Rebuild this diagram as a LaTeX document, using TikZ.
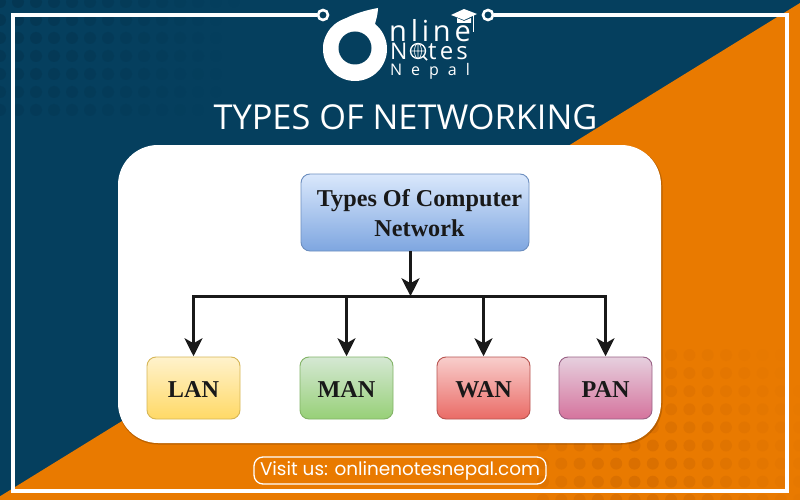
\documentclass[tikz,border=0pt]{standalone}
\usepackage{fontspec}
\setmainfont{Liberation Serif}
\newfontfamily\titlefont{Open Sans}
\newfontfamily\visitfont{Poppins}
\newfontfamily\logofont[LetterSpace=13]{Open Sans}
\newfontfamily\nepalfont[LetterSpace=56]{Open Sans}
\usetikzlibrary{arrows.meta}
\definecolor{navy}{HTML}{053F5E}
\definecolor{navydot}{HTML}{043753}
\definecolor{orangebg}{HTML}{E97A00}
\definecolor{orangedot}{HTML}{D96F00}
\definecolor{topdraw}{HTML}{6C8EBF}
\definecolor{toplight}{HTML}{DAE8FC}
\definecolor{topdark}{HTML}{7EA6E0}
\definecolor{landraw}{HTML}{D6B656}
\definecolor{lanlight}{HTML}{FFF2CC}
\definecolor{landark}{HTML}{FFD966}
\definecolor{mandraw}{HTML}{82B366}
\definecolor{manlight}{HTML}{D5E8D4}
\definecolor{mandark}{HTML}{97D077}
\definecolor{wandraw}{HTML}{B85450}
\definecolor{wanlight}{HTML}{F8CECC}
\definecolor{wandark}{HTML}{EA6B66}
\definecolor{pandraw}{HTML}{996185}
\definecolor{panlight}{HTML}{E6D0DE}
\definecolor{pandark}{HTML}{D5739D}
\tikzset{
    netbox/.style={draw=#1draw,top color=#1light,bottom color=#1dark,rounded corners=9pt,line width=0.9pt,
        minimum height=62pt,minimum width=93pt,inner sep=0pt,text=black!90,align=center,
        font=\fontsize{24.2}{29.5}\selectfont\bfseries},
    leafbox/.style={netbox=#1,text height=19pt,text depth=0pt},
    busline/.style={line width=2.8pt,black!90},
    droparrow/.style={busline,-{Stealth[length=18pt,width=18pt,inset=5pt]},shorten >=0.3pt},
    frameline/.style={white,line width=4pt},
    pin/.style={circle,draw=white,fill=navy,line width=2.6pt,minimum size=10pt,inner sep=0pt}
}
\begin{document}
\begin{tikzpicture}[x=1pt,y=-1pt]
    \useasboundingbox (0,0) rectangle (800,500);
    \fill[navy] (0,0) rectangle (800,500);
    \fill[orangebg] (800,3) -- (800,500) -- (-6,500) -- cycle;
    \foreach \i in {0,...,14}
        \foreach \j in {0,...,6}{
            \pgfmathsetmacro{\fadetl}{max(0,1-veclen(18*\i,18*\j)/235)}
            \fill[navydot,opacity=\fadetl] (18*\i,2+18*\j) circle (6pt);
        }
    \foreach \i in {0,...,14}
        \foreach \j in {0,...,8}{
            \pgfmathsetmacro{\fadebr}{max(0,1-veclen(18.3*\i-94,18.1*\j-120)/190)}
            \fill[orangedot,opacity=\fadebr] (543+18.3*\i,355+18.1*\j) circle (6pt);
        }

    \node[pin] (pinl) at (323,15) {};
    \node[pin] (pinr) at (488,15) {};
    \coordinate (tl) at (13,15);
    \coordinate (bl) at (13,491);
    \coordinate (br) at (787,491);
    \coordinate (tr) at (787,15);
    \draw[frameline,line join=miter] (pinl) -- (tl) -- (bl) -- (br) -- (tr) -- (pinr);

    \fill[white] (355,49) circle (32pt);
    \fill[white] (323,49) .. controls (323,28) and (345,14) .. (378,8) .. controls (378,14) and (376,20) .. (375,24) -- (355,49) -- cycle;
    \fill[navy] (355,48) circle (16.5pt);
    \node[anchor=base west,inner sep=0pt,text=white,font=\logofont\fontsize{29}{29}\selectfont] (online) at (389,41.5) {nline};
    \node[anchor=base west,inner sep=0pt,text=white,font=\logofont\fontsize{23}{23}\selectfont] (notesn) at (390,60) {N};
    \node[anchor=base west,inner sep=0pt,text=white,font=\logofont\fontsize{24}{24}\selectfont] (notest) at (428,60) {tes};
    \node[anchor=base west,inner sep=0pt,text=white,font=\nepalfont\fontsize{16}{16}\selectfont] (nepal) at (390,76) {Nepal};
    \draw[white,line width=1.3pt] (418,51) circle (7.5pt);
    \draw[white,line width=0.6pt] (410.5,51) -- (425.5,51) (418,43.5) -- (418,58.5) (418,51) ellipse (3.5pt and 7.5pt);
    \draw[white,line width=1.6pt] (423,56) -- (427,60);
    \fill[white] (451,15) -- (464,9) -- (477,14) -- (464,20) -- cycle;
    \fill[white] (457,18) -- (464,21) -- (471,18) -- (471,23) -- (457,23) -- cycle;
    \draw[white,line width=0.8pt] (473,15) -- (473,32);

    \node[text=white,inner sep=0pt,font=\titlefont\fontsize{34.3}{36}\selectfont] (title) at (405.5,117) {TYPES OF NETWORKING};

    \fill[black,opacity=0.18,rounded corners=40pt] (118,146) rectangle (662.5,444.5);
    \fill[white,rounded corners=40pt] (118,145) rectangle (661,443);

    \node[netbox=top,minimum width=228pt,minimum height=77pt] (network) at (415,212.5) {\rule{0pt}{18.5pt}\hspace*{9pt}Types Of Computer\\\hspace*{9pt}Network};
    \node[leafbox=lan] (lan) at (193.5,388) {LAN};
    \node[leafbox=man] (man) at (346.5,388) {MAN};
    \node[leafbox=wan] (wan) at (483.5,388) {WAN};
    \node[leafbox=pan] (pan) at (605.5,388) {PAN};

    \coordinate (stem) at (410.5,251);
    \coordinate (bus) at (410.5,296.5);
    \draw[busline,line cap=rect] (bus -| lan) -- (bus -| pan);
    \draw[droparrow] (stem) -- (bus);
    \draw[droparrow] (bus -| lan) -- (lan);
    \draw[droparrow] (bus -| man) -- (man);
    \draw[droparrow] (bus -| wan) -- (wan);
    \draw[droparrow] (bus -| pan) -- (pan);

    \node[draw=white,line width=1.3pt,rounded corners=9pt,minimum width=292pt,minimum height=27pt,inner sep=0pt,
        text=white,font=\visitfont\fontsize{18.4}{20}\selectfont] (visit) at (400,470.5) {Visit us: onlinenotesnepal.com};
\end{tikzpicture}
\end{document}
